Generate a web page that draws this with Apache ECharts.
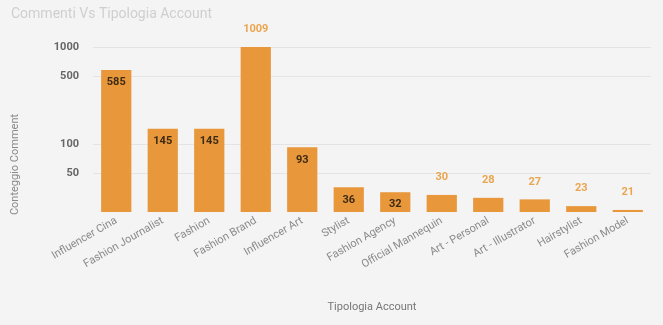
<!DOCTYPE html>
<html>
<head>
<meta charset="utf-8">
<script src="https://cdn.jsdelivr.net/npm/echarts@6/dist/echarts.min.js"></script>
<style>
  html, body { margin: 0; padding: 0; background: #f4f4f4; }
  #chart { width: 663px; height: 325px; }
</style>
</head>
<body>
<div id="chart"></div>
<script>
const categories = ['Influencer Cina', 'Fashion Journalist', 'Fashion', 'Fashion Brand', 'Influencer Art',
  'Stylist', 'Fashion Agency', 'Official Mannequin', 'Art - Personal', 'Art - Illustrator', 'Hairstylist', 'Fashion Model'];
const comments = [585, 145, 145, 1009, 93, 36, 32, 30, 28, 27, 23, 21];
const yTicks = [50, 100, 500, 1000];
// values whose label sits inside the bar
const insideLabels = [585, 145, 145, null, 93, 36, 32, null, null, null, null, null];

const orange = '#e8973b';

const chart = echarts.init(document.getElementById('chart'), null, { renderer: 'canvas' });

const data = comments.map(function (v, i) {
  if (insideLabels[i] != null) {
    return { value: v, label: { position: 'insideTop', distance: 7, color: '#3d2a14' } };
  }
  return { value: v, label: { position: 'top', distance: 12, color: '#eaa550' } };
});

chart.setOption({
  backgroundColor: '#f4f4f4',
  animation: false,
  title: {
    text: 'Commenti Vs Tipologia Account',
    left: 6,
    top: 2,
    textStyle: { color: '#cfcfcf', fontSize: 14, fontWeight: 'normal', fontFamily: 'Roboto' }
  },
  grid: { left: 93, right: 12, top: 47, bottom: 113 },
  xAxis: {
    type: 'category',
    data: categories,
    name: 'Tipologia Account',
    nameLocation: 'middle',
    nameGap: 90,
    nameTextStyle: { color: '#777', fontSize: 11, fontFamily: 'Roboto' },
    axisLine: { show: false },
    axisTick: { show: false },
    axisLabel: {
      rotate: 30,
      interval: 0,
      margin: 8,
      color: '#8a8a8a',
      fontSize: 11,
      fontFamily: 'Roboto'
    }
  },
  yAxis: {
    type: 'log',
    logBase: 10,
    min: 20,
    max: 1009,
    name: 'Conteggio Comment',
    nameLocation: 'middle',
    nameGap: 72,
    nameTextStyle: { color: '#8a8a8a', fontSize: 11, fontFamily: 'Roboto', padding: [0, 70, 0, 0] },
    axisLine: { show: false },
    axisTick: { show: false },
    splitLine: { show: false },
    axisLabel: {
      customValues: yTicks,
      formatter: function (v) { return String(v); },
      margin: 14,
      color: '#666',
      fontSize: 11,
      fontWeight: 'bold',
      fontFamily: 'Roboto'
    }
  },
  series: [{
    type: 'bar',
    data: data,
    barWidth: '65%',
    itemStyle: { color: orange },
    label: { show: true, fontSize: 11, fontWeight: 'bold', fontFamily: 'Roboto' },
    markLine: {
      silent: true,
      symbol: 'none',
      z: 0,
      label: { show: false },
      lineStyle: { color: '#e4e4e4', type: 'solid', width: 1 },
      data: yTicks.map(function (t) { return { yAxis: t }; })
    }
  }]
});
</script>
</body>
</html>
